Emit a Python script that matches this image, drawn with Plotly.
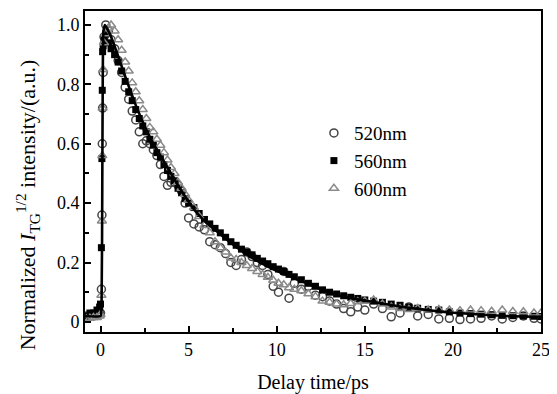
import plotly.graph_objects as go

# ---------------- data ----------------
delay_ps = [
    -0.8, -0.6, -0.4, -0.2, -0.05, 0.0, 0.05, 0.08, 0.1, 0.12, 0.15, 0.2,
    0.3, 0.45, 0.6,
    0.8, 1.0, 1.2, 1.4, 1.6, 1.8, 2.0, 2.2, 2.4, 2.6, 2.8, 3.0, 3.2, 3.4, 3.6, 3.8, 4.0, 4.2, 4.4, 4.6, 4.8, 5.0,
    5.3, 5.6, 5.9, 6.2, 6.5, 6.8, 7.1, 7.4, 7.7, 8.0, 8.3, 8.6, 8.9, 9.2, 9.5, 9.8, 10.1, 10.4, 10.7, 11.0,
    11.4, 11.8, 12.2, 12.6, 13.0, 13.4, 13.8, 14.2, 14.6, 15.0,
    15.5, 16.0, 16.5, 17.0, 17.5, 18.0,
    18.6, 19.2, 19.8, 20.4, 21.0, 21.6, 22.2, 22.8, 23.4, 24.0, 24.6,
    25.0,
]

i_520nm = [
    0.02, 0.02, 0.02, 0.025, 0.03, 0.03, 0.11, 0.36, 0.60, 0.72, 0.84, 0.96,
    1.0, 0.98, 0.95,
    0.92, 0.88, 0.84, 0.79, 0.75, 0.71, 0.68, 0.64, 0.60, 0.61, 0.60, 0.58, 0.56, 0.53, 0.49, 0.46, 0.47, 0.47, 0.46, 0.44, 0.40, 0.35,
    0.33, 0.32, 0.31, 0.27, 0.26, 0.25, 0.23, 0.20, 0.19, 0.21, 0.235, 0.22, 0.20, 0.19, 0.16, 0.12, 0.10, 0.17, 0.08, 0.13,
    0.11, 0.12, 0.09, 0.085, 0.07, 0.06, 0.045, 0.034, 0.05, 0.04,
    0.06, 0.045, 0.017, 0.03, 0.05, 0.02,
    0.025, 0.01, 0.012, 0.008, 0.01, 0.012, 0.02, 0.01, 0.015, 0.02, 0.012,
    0.01,
]

i_560nm = [
    0.02, 0.03, 0.03, 0.04, 0.05, 0.06, 0.25, 0.55, 0.78, 0.91, 0.93, 0.95,
    0.97, 0.94, 0.92,
    0.90, 0.875, 0.845, 0.81, 0.775, 0.745, 0.715, 0.685, 0.66, 0.64, 0.615, 0.595, 0.57, 0.555, 0.53, 0.51, 0.49, 0.475, 0.45, 0.435, 0.415, 0.40,
    0.385, 0.365, 0.345, 0.33, 0.315, 0.30, 0.285, 0.27, 0.258, 0.245, 0.235, 0.226, 0.214, 0.205, 0.196, 0.186, 0.178, 0.17, 0.16, 0.152,
    0.142, 0.13, 0.12, 0.108, 0.10, 0.094, 0.088, 0.083, 0.079, 0.074,
    0.07, 0.066, 0.06, 0.056, 0.05, 0.046,
    0.042, 0.04, 0.034, 0.03, 0.028, 0.026, 0.024, 0.022, 0.021, 0.02, 0.019,
    0.018,
]

i_600nm = [
    0.01, 0.012, 0.015, 0.015, 0.02, 0.025, 0.09, 0.34, 0.56, 0.72, 0.85, 0.94,
    0.97, 0.99, 1.0,
    0.98, 0.95, 0.915, 0.875, 0.845, 0.805, 0.775, 0.745, 0.715, 0.685, 0.655, 0.64, 0.615, 0.595, 0.57, 0.545, 0.52, 0.50, 0.47, 0.45, 0.43, 0.41,
    0.385, 0.355, 0.325, 0.30, 0.27, 0.25, 0.235, 0.215, 0.21, 0.20, 0.19, 0.18, 0.17, 0.16, 0.15, 0.14, 0.13, 0.125, 0.115, 0.11,
    0.105, 0.095, 0.085, 0.07, 0.066, 0.06, 0.058, 0.062, 0.068, 0.07,
    0.074, 0.06, 0.05, 0.045, 0.042, 0.045,
    0.04, 0.042, 0.04, 0.038, 0.04, 0.038, 0.036, 0.04, 0.035, 0.034, 0.03,
    0.03,
]

fit_t = [-0.9, 0.0, 0.06, 0.1, 0.13, 0.17, 0.25, 0.4, 0.6, 1.0, 1.5, 2.0, 2.5, 3.0, 3.5, 4.0, 4.5, 5.0,
         5.5, 6.0, 6.5, 7.0, 7.5, 8.0, 8.5, 9.0, 9.5, 10.0, 11.0, 12.0, 13.0, 14.0, 15.0, 16.0,
         17.0, 18.0, 19.0, 20.0, 21.0, 22.0, 23.0, 24.0, 25.0]
fit_v = [0.02, 0.02, 0.06, 0.45, 0.85, 0.98, 1.0, 0.985, 0.96, 0.895, 0.81, 0.73, 0.66, 0.60, 0.55, 0.50, 0.45, 0.405,
         0.365, 0.335, 0.31, 0.285, 0.262, 0.24, 0.22, 0.202, 0.186, 0.172, 0.148, 0.122, 0.098, 0.082, 0.072, 0.062,
         0.052, 0.044, 0.037, 0.031, 0.027, 0.023, 0.02, 0.018, 0.017]

series_names = ["520nm", "560nm", "600nm"]

x_tick_vals = [0, 5, 10, 15, 20, 25]
x_tick_text = ["0", "5", "10", "15", "20", "25"]
y_tick_vals = [0, 0.2, 0.4, 0.6, 0.8, 1.0]
y_tick_text = ["0", "0.2", "0.4", "0.6", "0.8", "1.0"]

x_title = "Delay time/ps"
y_title = "Normalized <i>I</i><sub>TG</sub><sup>1/2</sup> intensity/(a.u.)"

# ---------------- figure ----------------
FONT = "Liberation Serif"
fig = go.Figure()

fig.add_trace(go.Scatter(
    x=delay_ps, y=i_520nm, mode="markers", name=series_names[0],
    marker=dict(symbol="circle-open", size=8, color="#454545", line=dict(width=1.5, color="#454545")),
))
fig.add_trace(go.Scatter(
    x=delay_ps, y=i_560nm, mode="markers", name=series_names[1],
    marker=dict(symbol="square", size=7, color="black", line=dict(width=0)),
))
fig.add_trace(go.Scatter(
    x=delay_ps, y=i_600nm, mode="markers", name=series_names[2],
    marker=dict(symbol="triangle-up-open", size=8, color="#8a8a8a", line=dict(width=1.5, color="#8a8a8a")),
))
fig.add_trace(go.Scatter(
    x=fit_t, y=fit_v, mode="lines", showlegend=False,
    line=dict(color="black", width=2.6, shape="spline", smoothing=0.4),
))

# the page body adds an 8 px offset; size the figure so the frame lands where the reference has it
fig.update_layout(
    width=549, height=386,
    margin=dict(l=77, r=16, t=3, b=62, autoexpand=False),
    paper_bgcolor="white", plot_bgcolor="white",
    font=dict(family=FONT, size=18, color="black"),
    showlegend=True,
    legend=dict(
        x=0.502, y=0.679, xanchor="left", yanchor="top",
        font=dict(family=FONT, size=19, color="black"),
        bgcolor="rgba(0,0,0,0)", itemwidth=30, tracegroupgap=0,
    ),
    xaxis=dict(
        range=[-0.88, 25.0],
        tickvals=x_tick_vals, ticktext=x_tick_text,
        ticks="inside", ticklen=6, tickwidth=2, tickcolor="black",
        minor=dict(dtick=2.5, tick0=0, ticks="inside", ticklen=4, tickwidth=2, tickcolor="black"),
        showline=True, linewidth=2, linecolor="black", mirror=True,
        showgrid=False, zeroline=False,
        tickfont=dict(family=FONT, size=18),
        title=dict(text=x_title, font=dict(family=FONT, size=20), standoff=18),
    ),
    yaxis=dict(
        range=[-0.034, 1.047],
        tickvals=y_tick_vals, ticktext=y_tick_text,
        ticks="inside", ticklen=6, tickwidth=2, tickcolor="black",
        minor=dict(dtick=0.1, tick0=0, ticks="inside", ticklen=4, tickwidth=2, tickcolor="black"),
        showline=True, linewidth=2, linecolor="black", mirror=True,
        showgrid=False, zeroline=False,
        tickfont=dict(family=FONT, size=18),
    ),
    annotations=[dict(
        text=y_title, textangle=-90, showarrow=False,
        xref="paper", yref="paper", x=-0.127, y=0.395,
        xanchor="center", yanchor="middle",
        font=dict(family=FONT, size=22, color="black"),
    )],
)

fig.write_html("out.html")
